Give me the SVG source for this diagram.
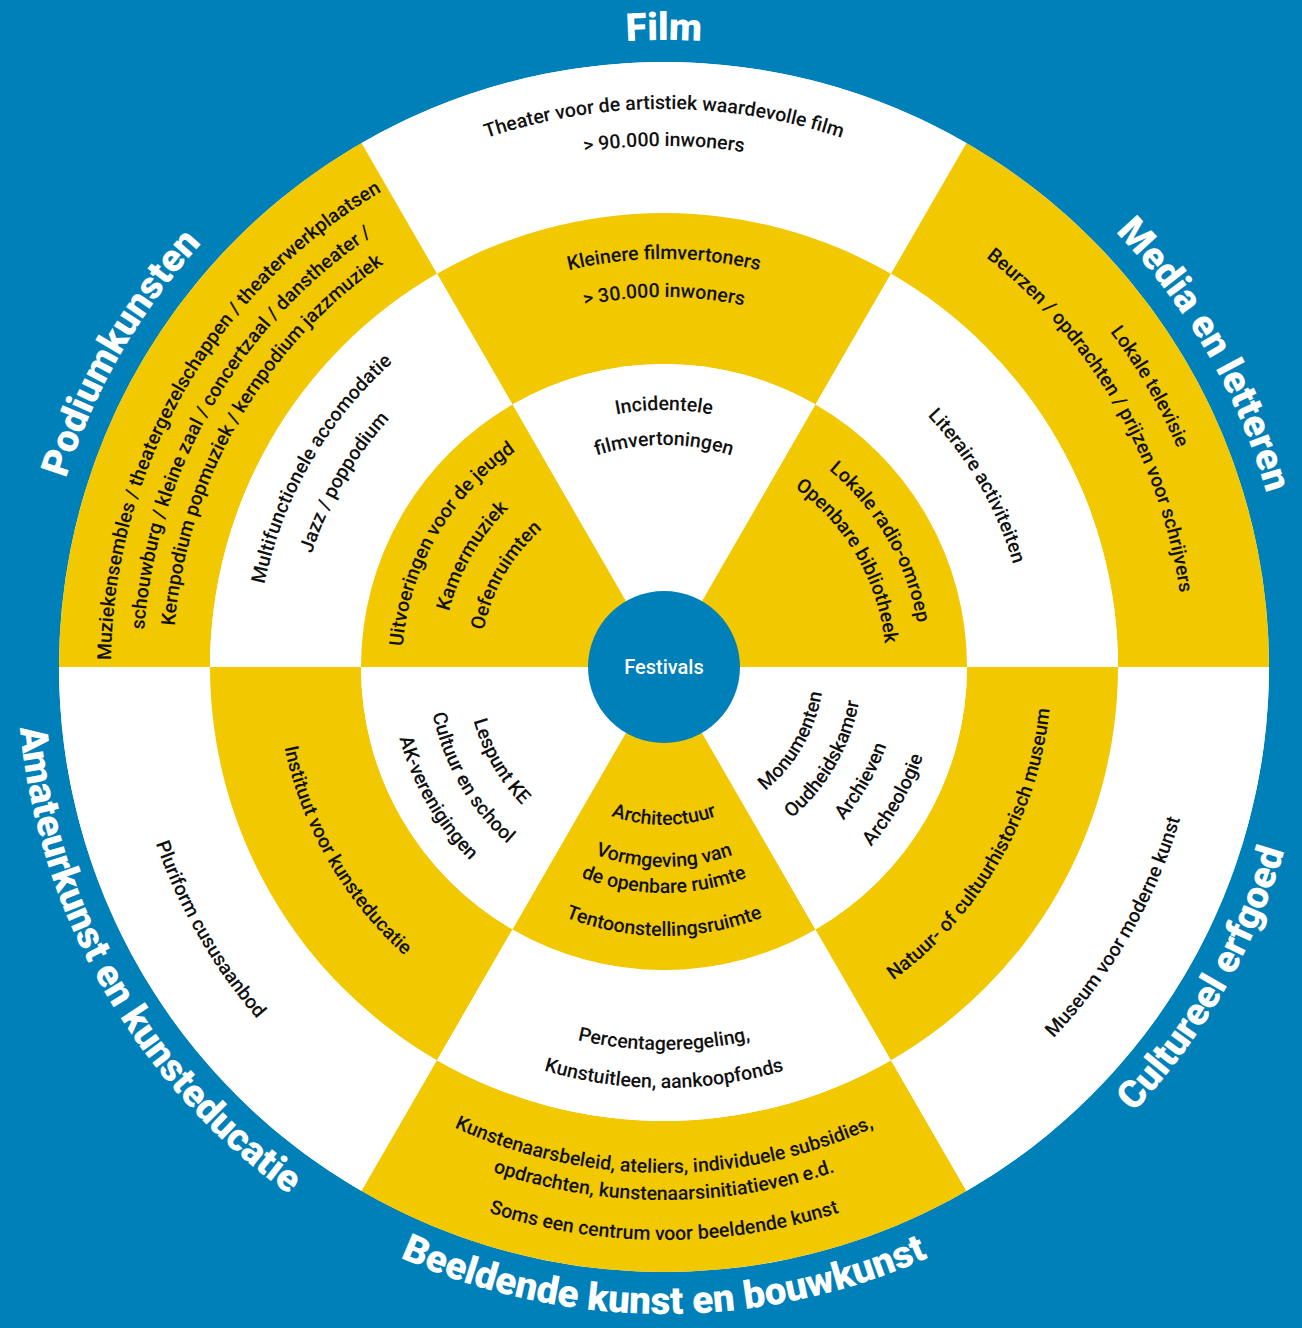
<svg xmlns="http://www.w3.org/2000/svg" width="1302" height="1328" viewBox="0 0 1302 1328">
<style>
.bg{fill:#0080b9}
.y{fill:#f2c800}
.w{fill:#ffffff}
.lbl{font-family:Roboto,'Liberation Sans',sans-serif;font-weight:500;font-size:19.5px;fill:#111111;text-anchor:middle}
.ttl{font-family:Roboto,'Liberation Sans',sans-serif;font-weight:900;font-size:38.5px;fill:#ffffff;text-anchor:middle}
.ctr{font-family:Roboto,'Liberation Sans',sans-serif;font-weight:500;font-size:20px;fill:#ffffff;text-anchor:middle}
</style>
<defs>
<path id="t627" d="M46.52 558.12 A627 627 0 0 1 1281.48 558.12"/>
<path id="t558" d="M114.48 570.10 A558 558 0 0 1 1213.52 570.10"/>
<path id="t553" d="M119.40 570.97 A553 553 0 0 1 1208.60 570.97"/>
<path id="t521" d="M150.91 576.53 A521 521 0 0 1 1177.09 576.53"/>
<path id="t491" d="M180.46 581.74 A491 491 0 0 1 1147.54 581.74"/>
<path id="t408" d="M262.20 596.15 A408 408 0 0 1 1065.80 596.15"/>
<path id="t370" d="M299.62 602.75 A370 370 0 0 1 1028.38 602.75"/>
<path id="t364" d="M305.53 603.79 A364 364 0 0 1 1022.47 603.79"/>
<path id="t262" d="M405.98 621.50 A262 262 0 0 1 922.02 621.50"/>
<path id="t257" d="M410.90 622.37 A257 257 0 0 1 917.10 622.37"/>
<path id="t222" d="M445.37 628.45 A222 222 0 0 1 882.63 628.45"/>
<path id="t184" d="M482.79 635.05 A184 184 0 0 1 845.21 635.05"/>
<path id="b647" d="M26.83 779.35 A647 647 0 0 0 1301.17 779.35"/>
<path id="b573" d="M99.70 766.50 A573 573 0 0 0 1228.30 766.50"/>
<path id="b538" d="M134.17 760.42 A538 538 0 0 0 1193.83 760.42"/>
<path id="b533" d="M139.10 759.55 A533 533 0 0 0 1188.90 759.55"/>
<path id="b506" d="M165.69 754.87 A506 506 0 0 0 1162.31 754.87"/>
<path id="b421" d="M249.40 740.11 A421 421 0 0 0 1078.60 740.11"/>
<path id="b388" d="M281.89 734.38 A388 388 0 0 0 1046.11 734.38"/>
<path id="b383" d="M286.82 733.51 A383 383 0 0 0 1041.18 733.51"/>
<path id="b274" d="M394.16 714.58 A274 274 0 0 0 933.84 714.58"/>
<path id="b269" d="M399.09 713.71 A269 269 0 0 0 928.91 713.71"/>
<path id="b236" d="M431.58 707.98 A236 236 0 0 0 896.42 707.98"/>
<path id="b226" d="M441.43 706.24 A226 226 0 0 0 886.57 706.24"/>
<path id="b200" d="M467.04 701.73 A200 200 0 0 0 860.96 701.73"/>
<path id="b198" d="M469.01 701.38 A198 198 0 0 0 858.99 701.38"/>
<path id="b160" d="M506.43 694.78 A160 160 0 0 0 821.57 694.78"/>
<path id="b158" d="M508.40 694.44 A158 158 0 0 0 819.60 694.44"/>
</defs>
<rect class="bg" x="0" y="0" width="1302" height="1328"/>
<circle class="w" cx="664" cy="667" r="605"/>

<g id="film">
<path class="w" d="M966.5 143.05 A605 605 0 0 0 361.5 143.05 L437 273.82 A454 454 0 0 1 891 273.82 Z"/>
<path class="y" d="M891 273.82 A454 454 0 0 0 437 273.82 L512.5 404.59 A303 303 0 0 1 815.5 404.59 Z"/>
<path class="w" d="M664 667 L815.5 404.59 A303 303 0 0 0 512.5 404.59 Z"/>
<text class="ttl"><textPath href="#t627" startOffset="50%">Film</textPath></text>
<text class="lbl"><textPath href="#t558" startOffset="50%">Theater voor de artistiek waardevolle film</textPath></text>
<text class="lbl"><textPath href="#t521" startOffset="50%">&gt; 90.000 inwoners</textPath></text>
<text class="lbl"><textPath href="#t408" startOffset="50%">Kleinere filmvertoners</textPath></text>
<text class="lbl"><textPath href="#t370" startOffset="50%">&gt; 30.000 inwoners</textPath></text>
<text class="lbl"><textPath href="#t257" startOffset="50%">Incidentele</textPath></text>
<text class="lbl"><textPath href="#t222" startOffset="50%">filmvertoningen</textPath></text>
</g>

<g id="media-en-letteren">
<path class="y" d="M1269 667 A605 605 0 0 0 966.5 143.05 L891 273.82 A454 454 0 0 1 1118 667 Z"/>
<path class="w" d="M1118 667 A454 454 0 0 0 891 273.82 L815.5 404.59 A303 303 0 0 1 967 667 Z"/>
<path class="y" d="M664 667 L967 667 A303 303 0 0 0 815.5 404.59 Z"/>
<g transform="rotate(60 664 667)">
<text class="ttl"><textPath href="#t627" startOffset="50%">Media en letteren</textPath></text>
<text class="lbl"><textPath href="#t558" startOffset="50%">Lokale televisie</textPath></text>
<text class="lbl"><textPath href="#t521" startOffset="50%">Beurzen / opdrachten / prijzen voor schrijvers</textPath></text>
<text class="lbl"><textPath href="#t364" startOffset="50%">Literaire activiteiten</textPath></text>
<text class="lbl"><textPath href="#t257" startOffset="50%">Lokale radio-omroep</textPath></text>
<text class="lbl"><textPath href="#t222" startOffset="50%">Openbare bibliotheek</textPath></text>
</g>
</g>

<g id="podiumkunsten">
<path class="y" d="M361.5 143.05 A605 605 0 0 0 59 667 L210 667 A454 454 0 0 1 437 273.82 Z"/>
<path class="w" d="M437 273.82 A454 454 0 0 0 210 667 L361 667 A303 303 0 0 1 512.5 404.59 Z"/>
<path class="y" d="M664 667 L512.5 404.59 A303 303 0 0 0 361 667 Z"/>
<g transform="rotate(-60 664 667)">
<text class="ttl"><textPath href="#t627" startOffset="50%">Podiumkunsten</textPath></text>
<text class="lbl"><textPath href="#t553" startOffset="50%">Muziekensembles / theatergezelschappen / theaterwerkplaatsen</textPath></text>
<text class="lbl"><textPath href="#t521" startOffset="50%">schouwburg / kleine zaal / concertzaal / danstheater /</textPath></text>
<text class="lbl"><textPath href="#t491" startOffset="50%">Kernpodium popmuziek / kernpodium jazzmuziek</textPath></text>
<text class="lbl"><textPath href="#t408" startOffset="50%">Multifunctionele accomodatie</textPath></text>
<text class="lbl"><textPath href="#t370" startOffset="50%">Jazz / poppodium</textPath></text>
<text class="lbl"><textPath href="#t262" startOffset="50%">Uitvoeringen voor de jeugd</textPath></text>
<text class="lbl"><textPath href="#t222" startOffset="50%">Kamermuziek</textPath></text>
<text class="lbl"><textPath href="#t184" startOffset="50%">Oefenruimten</textPath></text>
</g>
</g>

<g id="amateurkunst-en-kunsteducatie">
<path class="w" d="M59 667 A605 605 0 0 0 361.5 1190.95 L437 1060.18 A454 454 0 0 1 210 667 Z"/>
<path class="y" d="M210 667 A454 454 0 0 0 437 1060.18 L512.5 929.41 A303 303 0 0 1 361 667 Z"/>
<path class="w" d="M664 667 L361 667 A303 303 0 0 0 512.5 929.41 Z"/>
<g transform="rotate(60 664 667)">
<text class="ttl"><textPath href="#b647" startOffset="50%">Amateurkunst en kunsteducatie</textPath></text>
<text class="lbl"><textPath href="#b538" startOffset="50%">Pluriform cususaanbod</textPath></text>
<text class="lbl"><textPath href="#b388" startOffset="50%">Instituut voor kunsteducatie</textPath></text>
<text class="lbl"><textPath href="#b198" startOffset="50%">Lespunt KE</textPath></text>
<text class="lbl"><textPath href="#b236" startOffset="50%">Cultuur en school</textPath></text>
<text class="lbl"><textPath href="#b274" startOffset="50%">AK-verenigingen</textPath></text>
</g>
</g>

<g id="beeldende-kunst-en-bouwkunst">
<path class="y" d="M361.5 1190.95 A605 605 0 0 0 966.5 1190.95 L891 1060.18 A454 454 0 0 1 437 1060.18 Z"/>
<path class="w" d="M437 1060.18 A454 454 0 0 0 891 1060.18 L815.5 929.41 A303 303 0 0 1 512.5 929.41 Z"/>
<path class="y" d="M664 667 L512.5 929.41 A303 303 0 0 0 815.5 929.41 Z"/>
<text class="ttl"><textPath href="#b647" startOffset="50%">Beeldende kunst en bouwkunst</textPath></text>
<text class="lbl"><textPath href="#b506" startOffset="50%">Kunstenaarsbeleid, ateliers, individuele subsidies,</textPath></text>
<text class="lbl"><textPath href="#b533" startOffset="50%">opdrachten, kunstenaarsinitiatieven e.d.</textPath></text>
<text class="lbl"><textPath href="#b573" startOffset="50%">Soms een centrum voor beeldende kunst</textPath></text>
<text class="lbl"><textPath href="#b383" startOffset="50%">Percentageregeling,</textPath></text>
<text class="lbl"><textPath href="#b421" startOffset="50%">Kunstuitleen, aankoopfonds</textPath></text>
<text class="lbl"><textPath href="#b158" startOffset="50%">Architectuur</textPath></text>
<text class="lbl"><textPath href="#b200" startOffset="50%">Vormgeving van</textPath></text>
<text class="lbl"><textPath href="#b226" startOffset="50%">de openbare ruimte</textPath></text>
<text class="lbl"><textPath href="#b269" startOffset="50%">Tentoonstellingsruimte</textPath></text>
</g>

<g id="cultureel-erfgoed">
<path class="w" d="M966.5 1190.95 A605 605 0 0 0 1269 667 L1118 667 A454 454 0 0 1 891 1060.18 Z"/>
<path class="y" d="M891 1060.18 A454 454 0 0 0 1118 667 L967 667 A303 303 0 0 1 815.5 929.41 Z"/>
<path class="w" d="M664 667 L815.5 929.41 A303 303 0 0 0 967 667 Z"/>
<g transform="rotate(-60 664 667)">
<text class="ttl"><textPath href="#b647" startOffset="50%">Cultureel erfgoed</textPath></text>
<text class="lbl"><textPath href="#b538" startOffset="50%">Museum voor moderne kunst</textPath></text>
<text class="lbl"><textPath href="#b388" startOffset="50%">Natuur- of cultuurhistorisch museum</textPath></text>
<text class="lbl"><textPath href="#b160" startOffset="50%">Monumenten</textPath></text>
<text class="lbl"><textPath href="#b198" startOffset="50%">Oudheidskamer</textPath></text>
<text class="lbl"><textPath href="#b236" startOffset="50%">Archieven</textPath></text>
<text class="lbl"><textPath href="#b274" startOffset="50%">Archeologie</textPath></text>
</g>
</g>

<g id="festivals">
<circle class="bg" cx="664" cy="667" r="76"/>
<text class="ctr" x="664" y="674">Festivals</text>
</g>

<g id="connectors"/>
</svg>
